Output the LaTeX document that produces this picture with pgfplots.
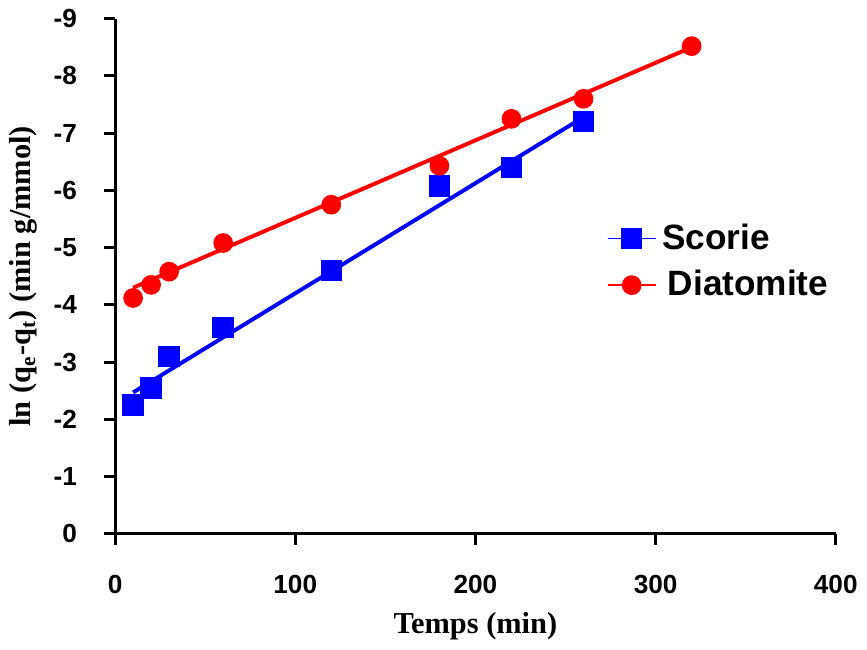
\documentclass[border=0pt]{standalone}
\usepackage{fontspec}
\setmainfont{Liberation Serif}
\setsansfont{Liberation Sans}
\usepackage{pgfplots}
\pgfplotsset{compat=1.18}
\begin{document}
\begin{tikzpicture}
\begin{axis}[
  width=256pt, height=183pt, scale only axis,
  xmin=0, xmax=400, ymin=-9, ymax=0,
  y dir=reverse,
  axis lines=left,
  axis line style={-, line width=1.1pt, black},
  tick style={line width=1.1pt, black},
  major tick length=4pt,
  tick align=outside,
  xtick={0,100,200,300,400},
  ytick={-9,-8,-7,-6,-5,-4,-3,-2,-1,0},
  yticklabels={-9,-8,-7,-6,-5,-4,-3,-2,-1,0},
  xticklabels={0,100,200,300,400},
  ticklabel style={font=\sffamily\bfseries\fontsize{9.3}{11}\selectfont},
  xticklabel style={yshift=-7pt},
  yticklabel style={xshift=-6pt},
  xlabel={\bfseries Temps (min)},
  ylabel={\bfseries ln (q$_{\mathbf{e}}$-q$_{\mathbf{t}}$) (min g/mmol)},
  label style={font=\rmfamily\bfseries\fontsize{10.8}{12}\selectfont},
  xlabel style={yshift=0pt},
  ylabel style={yshift=-1pt},
  legend style={draw=none, fill=none, at={(0.67,0.625)}, anchor=north west,
    font=\sffamily\bfseries\fontsize{12.5}{14}\selectfont, row sep=2pt,
    legend cell align=left},
  legend image code/.code={
    \draw[#1, line width=0.5pt] (0cm,0cm) -- (0.6cm,0cm);
    \draw[#1, mark repeat=2, mark phase=2] plot coordinates {(0cm,0cm) (0.3cm,0cm) (0.6cm,0cm)};
  },
  clip=false,
]
% fit lines
\addplot[blue, line width=1.4pt, forget plot] coordinates {(10,-2.47) (260,-7.28)};
\addplot[red, line width=1.4pt, forget plot] coordinates {(10,-4.3) (320,-8.5)};
% data
\addplot[only marks, blue, mark=square*, mark size=3.6pt, forget plot] coordinates {
  (10,-2.25) (20,-2.55) (30,-3.1) (60,-3.6) (120,-4.6) (180,-6.08) (220,-6.4) (260,-7.2)};
\addplot[only marks, red, mark=*, mark size=3.3pt, forget plot] coordinates {
  (10,-4.12) (20,-4.35) (30,-4.58) (60,-5.08) (120,-5.75) (180,-6.43) (220,-7.25) (260,-7.6) (320,-8.52)};
\addlegendimage{blue, mark=square*, mark size=3.6pt}
\addlegendentry{Scorie}
\addlegendimage{red, mark=*, mark size=3.3pt}
\addlegendentry{\,Diatomite}
\end{axis}
\end{tikzpicture}
\end{document}
